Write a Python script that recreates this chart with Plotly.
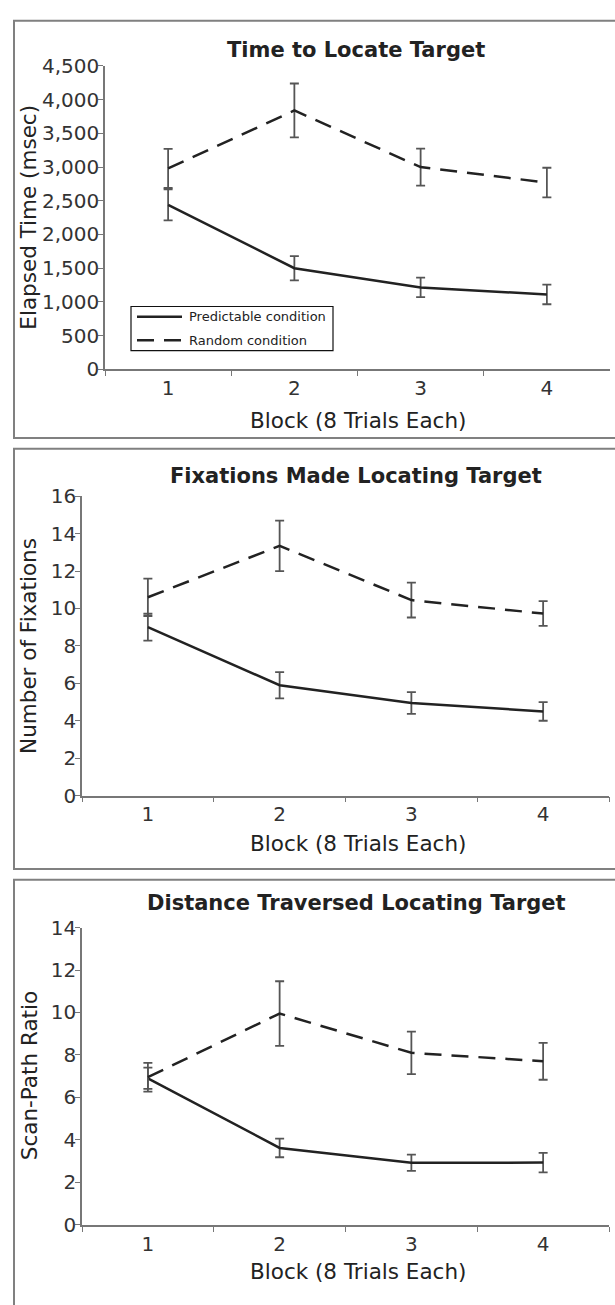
import plotly.graph_objects as go

W, H = 615, 1305

blocks = ["1", "2", "3", "4"]
series_names = ["Predictable condition", "Random condition"]

# Panel 1: Time to Locate Target (msec)
time_pred = [2440, 1500, 1215, 1110]
time_pred_err = [230, 180, 145, 145]
time_rand = [2980, 3840, 3000, 2770]
time_rand_err = [290, 400, 275, 220]

# Panel 2: Fixations
fix_pred = [9.0, 5.9, 4.95, 4.5]
fix_pred_err = [0.72, 0.7, 0.58, 0.5]
fix_rand = [10.6, 13.35, 10.45, 9.73]
fix_rand_err = [1.0, 1.35, 0.93, 0.66]

# Panel 3: Scan-path ratio
dist_pred = [6.9, 3.62, 2.92, 2.93]
dist_pred_err = [0.5, 0.44, 0.38, 0.46]
dist_rand = [6.95, 9.95, 8.1, 7.7]
dist_rand_err = [0.68, 1.52, 1.0, 0.87]

titles = ["Time to Locate Target", "Fixations Made Locating Target",
          "Distance Traversed Locating Target"]
ytitles = ["Elapsed Time (msec)", "Number of Fixations", "Scan-Path Ratio"]
xtitle = "Block (8 Trials Each)"

FONT = "DejaVu Sans"
LINE = "#222222"
ERR = "#555555"
AX = "#777777"
DASH = "17px,10px"


def px(x):
    return x / W


def py(y):
    return 1 - y / H


panels = [
    dict(pred=time_pred, pe=time_pred_err, rand=time_rand, re=time_rand_err,
         xd=(105, 610), yd=(364, 55), yr=[0, 4500], dt=500, fmt=",d",
         title_y=39, xt_y=416, box=(9, 434)),
    dict(pred=fix_pred, pe=fix_pred_err, rand=fix_rand, re=fix_rand_err,
         xd=(82, 609), yd=(798.3, 493.3), yr=[0, 16], dt=2, fmt="d",
         title_y=473, xt_y=847, box=(445, 873)),
    dict(pred=dist_pred, pe=dist_pred_err, rand=dist_rand, re=dist_rand_err,
         xd=(82, 609), yd=(1235.5, 932.7), yr=[0, 14], dt=2, fmt="d",
         title_y=908, xt_y=1283, box=(884, 1330)),
]

fig = go.Figure()
annotations = []
shapes = []

for i, p in enumerate(panels):
    n = "" if i == 0 else str(i + 1)
    xa, ya = "x" + n, "y" + n
    for name, vals, errs, dash in [
        (series_names[0], p["pred"], p["pe"], "solid"),
        (series_names[1], p["rand"], p["re"], DASH),
    ]:
        fig.add_trace(go.Scatter(
            x=blocks, y=vals, mode="lines", name=name,
            line=dict(color=LINE, width=2.5, dash=dash),
            error_y=dict(type="data", array=errs, visible=True,
                         color=ERR, thickness=1.8, width=4.5),
            xaxis=xa, yaxis=ya, showlegend=False,
        ))
    axis_common = dict(showline=True, linecolor=AX, linewidth=1.6,
                       ticks="outside", ticklen=5, tickcolor=AX, tickwidth=1.3,
                       showgrid=False, zeroline=False,
                       tickfont=dict(family=FONT, size=20, color="#333333"))
    fig.layout["xaxis" + n] = dict(
        type="category", range=[-0.5, 3.5], tickson="boundaries",
        domain=[px(p["xd"][0]), px(p["xd"][1])], anchor=ya, **axis_common)
    fig.layout["yaxis" + n] = dict(
        range=p["yr"], dtick=p["dt"], tick0=0, tickformat=p["fmt"],
        ticklabelstandoff=-5,
        domain=[py(p["yd"][0]), py(p["yd"][1])], anchor=xa, **axis_common)

    annotations.append(dict(
        text="<b>%s</b>" % titles[i], x=px(356), y=py(p["title_y"]),
        xref="paper", yref="paper", xanchor="center", yanchor="middle",
        showarrow=False, font=dict(family=FONT, size=21, color="#222222")))
    annotations.append(dict(
        text=xtitle, x=px(358), y=py(p["xt_y"]),
        xref="paper", yref="paper", xanchor="center", yanchor="middle",
        showarrow=False, font=dict(family=FONT, size=21.5, color="#222222")))
    ymid = (p["yd"][0] + p["yd"][1]) / 2
    annotations.append(dict(
        text=ytitles[i], x=px(29), y=py(ymid), textangle=-90,
        xref="paper", yref="paper", xanchor="center", yanchor="middle",
        showarrow=False, font=dict(family=FONT, size=21.5, color="#222222")))
    shapes.append(dict(type="rect", xref="paper", yref="paper",
                       x0=px(14), x1=px(640), y0=py(p["box"][1]), y1=py(p["box"][0]),
                       line=dict(color="#808080", width=2)))

# Legend (panel 1), drawn as a framed key
shapes.append(dict(type="rect", xref="paper", yref="paper",
                   x0=px(131), x1=px(333), y0=py(345), y1=py(300),
                   line=dict(color="#111111", width=1.2), fillcolor="white",
                   layer="above"))
for k, (label, dash) in enumerate([(series_names[0], "solid"), (series_names[1], DASH)]):
    yy = 310.5 + 24 * k
    shapes.append(dict(type="line", xref="paper", yref="paper",
                       x0=px(137), x1=px(182), y0=py(yy), y1=py(yy),
                       line=dict(color=LINE, width=2.5, dash=dash), layer="above"))
    annotations.append(dict(
        text=label, x=px(187), y=py(yy), xref="paper", yref="paper",
        xanchor="left", yanchor="middle", showarrow=False,
        font=dict(family=FONT, size=13, color="#222222")))

fig.update_layout(
    width=W, height=H, margin=dict(l=0, r=0, t=0, b=0),
    paper_bgcolor="white", plot_bgcolor="white",
    annotations=annotations, shapes=shapes, showlegend=False,
)

fig.write_html("out.html")
